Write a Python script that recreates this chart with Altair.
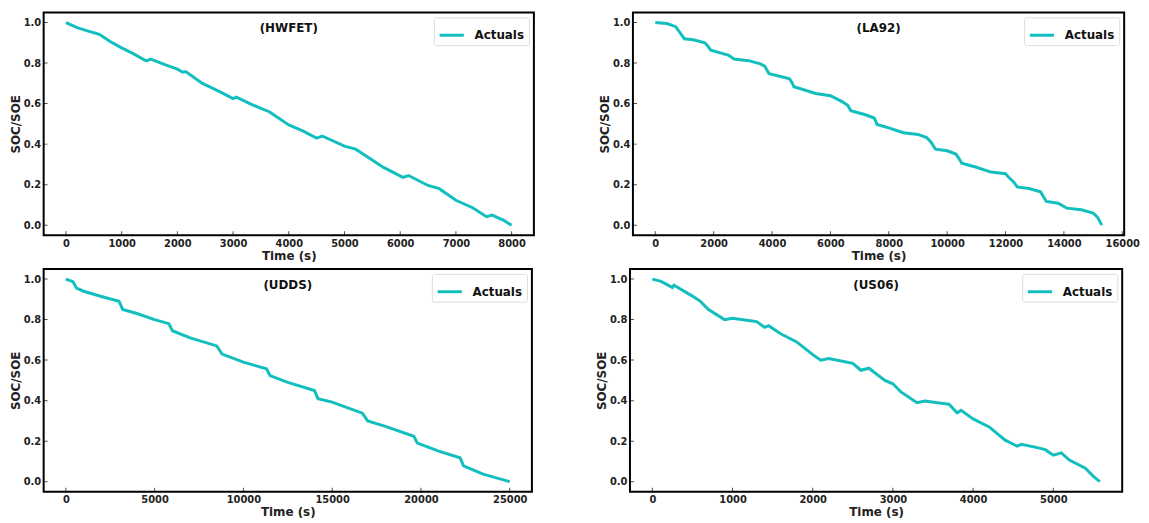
import altair as alt
import pandas as pd

TEAL = "#12BEBE"
FONT = "DejaVu Sans"

names = ["(HWFET)", "(LA92)", "(UDDS)", "(US06)"]

hwfet_t = [0, 200, 400, 600, 800, 1000, 1200, 1420, 1460, 1520, 1800, 2000, 2100, 2150, 2450,
           2750, 3000, 3060, 3300, 3500, 3650, 4000, 4250, 4500, 4600, 5000, 5200, 5450,
           5700, 6050, 6150, 6500, 6700, 7000, 7300, 7550, 7650, 7850, 8000]
hwfet_soc = [1.0, 0.975, 0.958, 0.942, 0.905, 0.875, 0.848, 0.814, 0.812, 0.82, 0.79, 0.77,
             0.755, 0.758, 0.70, 0.66, 0.625, 0.632, 0.60, 0.576, 0.56, 0.495, 0.465, 0.43,
             0.44, 0.39, 0.375, 0.33, 0.285, 0.236, 0.245, 0.196, 0.18, 0.123, 0.086, 0.042,
             0.05, 0.025, 0.0]

la92_t = [0, 400, 700, 1000, 1300, 1700, 1800, 1900, 2500, 2700, 3200, 3600, 3750, 3900,
          4400, 4600, 4700, 4750, 5500, 6000, 6400, 6600, 6700, 7200, 7500, 7600, 8000, 8500,
          9000, 9300, 9450, 9600, 10000, 10300, 10400, 10500, 11000, 11500, 12000, 12100,
          12300, 12400, 12800, 13200, 13300, 13400, 13800, 14100, 14600, 15000, 15150, 15300]
la92_soc = [1.0, 0.995, 0.98, 0.92, 0.915, 0.90, 0.885, 0.864, 0.84, 0.82, 0.812, 0.796,
            0.785, 0.748, 0.73, 0.723, 0.70, 0.683, 0.65, 0.639, 0.61, 0.59, 0.565, 0.545,
            0.529, 0.497, 0.48, 0.456, 0.448, 0.432, 0.41, 0.375, 0.367, 0.351, 0.33, 0.306,
            0.286, 0.262, 0.254, 0.238, 0.21, 0.189, 0.181, 0.165, 0.14, 0.117, 0.108, 0.084,
            0.076, 0.06, 0.04, 0.0]

udds_t = [0, 400, 600, 1000, 2000, 3000, 3200, 4000, 5000, 5800, 6000, 7000, 8500, 8800,
          10000, 11300, 11500, 12500, 14000, 14200, 15000, 16700, 17000, 18000, 19600, 19800,
          21000, 22200, 22400, 23500, 25000]
udds_soc = [1.0, 0.987, 0.955, 0.94, 0.914, 0.89, 0.85, 0.83, 0.80, 0.78, 0.745, 0.71,
            0.67, 0.63, 0.59, 0.557, 0.524, 0.49, 0.45, 0.41, 0.393, 0.338, 0.30, 0.273,
            0.224, 0.19, 0.151, 0.118, 0.078, 0.037, 0.0]

us06_t = [0, 100, 150, 250, 270, 500, 600, 700, 900, 1000, 1200, 1300, 1400, 1450, 1600,
          1800, 2000, 2100, 2200, 2500, 2600, 2700, 2900, 3000, 3100, 3300, 3400, 3600, 3700,
          3800, 3850, 4000, 4200, 4400, 4550, 4600, 4800, 4900, 5000, 5100, 5200, 5400, 5500,
          5580]
us06_soc = [1.0, 0.99, 0.98, 0.958, 0.97, 0.916, 0.89, 0.85, 0.80, 0.807, 0.796, 0.79,
            0.762, 0.77, 0.73, 0.69, 0.627, 0.60, 0.608, 0.584, 0.55, 0.56, 0.50, 0.483,
            0.443, 0.39, 0.398, 0.387, 0.382, 0.34, 0.352, 0.31, 0.27, 0.205, 0.175, 0.184,
            0.168, 0.158, 0.131, 0.142, 0.107, 0.066, 0.026, 0.0]

hwfet_xticks = [0, 1000, 2000, 3000, 4000, 5000, 6000, 7000, 8000]
la92_xticks = [0, 2000, 4000, 6000, 8000, 10000, 12000, 14000, 16000]
udds_xticks = [0, 5000, 10000, 15000, 20000, 25000]
us06_xticks = [0, 1000, 2000, 3000, 4000, 5000]
y_ticks = [0.0, 0.2, 0.4, 0.6, 0.8, 1.0]
series_name = "Actuals"


def panel(name, t, soc, xticks, w, h):
    span = max(t) - min(t)
    xdom = [min(t) - 0.05 * span, max(t) + 0.05 * span]
    xs = alt.Scale(domain=xdom, nice=False, zero=False)
    ys = alt.Scale(domain=[-0.05, 1.05], nice=False, zero=False)
    xax = alt.Axis(values=xticks, format="d", title="Time (s)")
    yax = alt.Axis(values=y_ticks, format=".1f", title="SOC/SOE")
    df = pd.DataFrame({"t": t, "soc": soc, "series": series_name})
    line = alt.Chart(df).mark_line(strokeWidth=3).encode(
        x=alt.X("t:Q", scale=xs, axis=xax),
        y=alt.Y("soc:Q", scale=ys, axis=yax),
        color=alt.Color("series:N",
                        scale=alt.Scale(domain=[series_name], range=[TEAL]),
                        legend=alt.Legend(title=None, orient="top-right")),
    )
    xt = alt.Chart(pd.DataFrame({"t": xticks})).mark_tick(
        clip=True, size=8, thickness=1, color="black").encode(
        x=alt.X("t:Q", scale=xs, axis=xax), y=alt.value(h))
    yt = alt.Chart(pd.DataFrame({"soc": y_ticks})).mark_tick(
        clip=True, size=8, thickness=1, color="black").encode(
        y=alt.Y("soc:Q", scale=ys, axis=yax), x=alt.value(0))
    ttl = alt.Chart(pd.DataFrame({"name": [name]})).mark_text(
        font=FONT, fontWeight="bold", fontSize=12, color="#111").encode(
        text="name:N", x=alt.value(w / 2), y=alt.value(16))
    return alt.layer(line, xt, yt, ttl).properties(width=w, height=h)


p1 = panel(names[0], hwfet_t, hwfet_soc, hwfet_xticks, 495, 225)
p2 = panel(names[1], la92_t, la92_soc, la92_xticks, 496, 225)
p3 = panel(names[2], udds_t, udds_soc, udds_xticks, 493, 225)
p4 = panel(names[3], us06_t, us06_soc, us06_xticks, 497, 225)

chart = alt.vconcat(
    alt.hconcat(p1, p2, spacing=63).resolve_scale(color="independent").resolve_legend(color="independent"),
    alt.hconcat(p3, p4, spacing=62).resolve_scale(color="independent").resolve_legend(color="independent"),
    spacing=6,
).resolve_scale(
    color="independent", x="independent", y="independent"
).resolve_legend(
    color="independent"
).properties(
    padding={"left": 0, "top": 1, "right": 0, "bottom": 0}
).configure_view(
    stroke="black", strokeWidth=2
).configure_axis(
    grid=False, domain=False, ticks=False,
    labelFont=FONT, labelFontWeight="bold", labelFontSize=10, labelColor="#222",
    titleFont=FONT, titleFontWeight="bold", titleFontSize=12, titleColor="#222",
).configure_axisX(
    labelPadding=3, titlePadding=2,
).configure_axisY(
    labelPadding=3, titlePadding=1,
).configure_legend(
    labelFont=FONT, labelFontWeight="bold", labelFontSize=12, labelColor="#111",
    symbolType="stroke", symbolStrokeWidth=3, symbolSize=600,
    labelOffset=9, padding=4, offset=5, rowPadding=0,
    strokeColor="#dddddd", fillColor="white", cornerRadius=2,
)

chart.save("out.html", embed_options={"renderer": "svg", "actions": False})
